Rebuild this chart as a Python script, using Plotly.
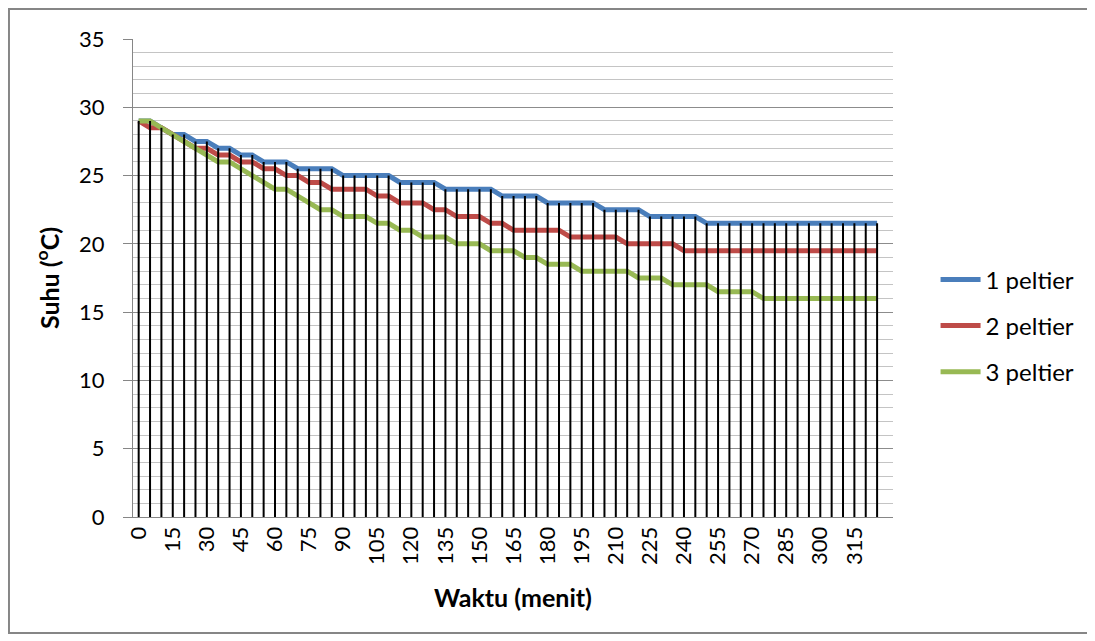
import plotly.graph_objects as go

minutes = [0, 5, 10, 15, 20, 25, 30, 35, 40, 45, 50, 55, 60, 65, 70, 75, 80, 85, 90, 95,
           100, 105, 110, 115, 120, 125, 130, 135, 140, 145, 150, 155, 160, 165, 170, 175,
           180, 185, 190, 195, 200, 205, 210, 215, 220, 225, 230, 235, 240, 245, 250, 255,
           260, 265, 270, 275, 280, 285, 290, 295, 300, 305, 310, 315, 320, 325]

peltier1 = [29, 29, 28.5, 28, 28, 27.5, 27.5, 27, 27, 26.5, 26.5, 26, 26, 26, 25.5, 25.5,
            25.5, 25.5, 25, 25, 25, 25, 25, 24.5, 24.5, 24.5, 24.5, 24, 24, 24, 24, 24,
            23.5, 23.5, 23.5, 23.5, 23, 23, 23, 23, 23, 22.5, 22.5, 22.5, 22.5, 22, 22, 22,
            22, 22, 21.5, 21.5, 21.5, 21.5, 21.5, 21.5, 21.5, 21.5, 21.5, 21.5, 21.5, 21.5,
            21.5, 21.5, 21.5, 21.5]

peltier2 = [29, 28.5, 28.5, 28, 27.5, 27, 27, 26.5, 26.5, 26, 26, 25.5, 25.5, 25, 25, 24.5,
            24.5, 24, 24, 24, 24, 23.5, 23.5, 23, 23, 23, 22.5, 22.5, 22, 22, 22, 21.5, 21.5,
            21, 21, 21, 21, 21, 20.5, 20.5, 20.5, 20.5, 20.5, 20, 20, 20, 20, 20, 19.5, 19.5,
            19.5, 19.5, 19.5, 19.5, 19.5, 19.5, 19.5, 19.5, 19.5, 19.5, 19.5, 19.5, 19.5,
            19.5, 19.5, 19.5]

peltier3 = [29, 29, 28.5, 28, 27.5, 27, 26.5, 26, 26, 25.5, 25, 24.5, 24, 24, 23.5, 23,
            22.5, 22.5, 22, 22, 22, 21.5, 21.5, 21, 21, 20.5, 20.5, 20.5, 20, 20, 20, 19.5,
            19.5, 19.5, 19, 19, 18.5, 18.5, 18.5, 18, 18, 18, 18, 18, 17.5, 17.5, 17.5, 17,
            17, 17, 17, 16.5, 16.5, 16.5, 16.5, 16, 16, 16, 16, 16, 16, 16, 16, 16, 16, 16]

series_names = ["1 peltier", "2 peltier", "3 peltier"]
series_colors = ["#4A7EBB", "#BE4B48", "#98B954"]
y_ticks = [0, 5, 10, 15, 20, 25, 30, 35]

cats = [str(m) for m in minutes]
FONT = "Lato"

fig = go.Figure()
for name, vals, col in zip(series_names, [peltier1, peltier2, peltier3], series_colors):
    fig.add_trace(go.Scatter(
        x=cats, y=vals, mode="lines", name=name,
        line=dict(color=col, width=5), legendgroup=name,
    ))

# Excel-style drop lines: from highest series value at each category down to the axis
drop_x, drop_y = [], []
for c, a, b, d in zip(cats, peltier1, peltier2, peltier3):
    drop_x += [c, c, None]
    drop_y += [0, max(a, b, d), None]
fig.add_trace(go.Scatter(
    x=drop_x, y=drop_y, mode="lines", showlegend=False, hoverinfo="skip",
    line=dict(color="black", width=2),
))

fig.update_layout(
    width=1087, height=633,
    margin=dict(l=125, r=202, t=31, b=124),
    paper_bgcolor="white", plot_bgcolor="white",
    font=dict(family=FONT, size=22, color="black"),
    showlegend=True,
    legend=dict(
        x=1.056, y=0.40, xanchor="left", yanchor="middle",
        font=dict(family=FONT, size=24, color="black"),
        tracegroupgap=12, traceorder="grouped",
        bgcolor="rgba(0,0,0,0)", itemwidth=40,
    ),
    xaxis=dict(
        type="category", range=[-0.5, 66.4],
        tickmode="linear", tick0=0, dtick=3,
        tickangle=-90, showgrid=False,
        showline=True, linecolor="#868686", linewidth=1,
        ticks="", tickfont=dict(family=FONT, size=22),
        title=dict(text="<b>Waktu (menit)</b>", font=dict(family=FONT, size=25), standoff=25),
        zeroline=False,
    ),
    yaxis=dict(
        range=[0, 35], tickvals=y_ticks,
        showgrid=True, gridcolor="#8C8C8C", gridwidth=1,
        minor=dict(dtick=1, showgrid=True, gridcolor="#C4C4C4", gridwidth=1),
        showline=True, linecolor="#868686", linewidth=1,
        ticks="outside", ticklen=9, tickcolor="#868686",
        ticklabelstandoff=14,
        tickfont=dict(family=FONT, size=22),
        title=dict(text="<b>Suhu (<sup>o</sup>C)</b>", font=dict(family=FONT, size=25), standoff=12),
        zeroline=False,
    ),
    shapes=[dict(
        type="rect", xref="paper", yref="paper",
        x0=-0.1632, x1=1.2566, y0=-0.2427, y1=1.0628,
        line=dict(color="#868686", width=2), fillcolor="rgba(0,0,0,0)", layer="below",
    )],
)

fig.write_html("out.html")
